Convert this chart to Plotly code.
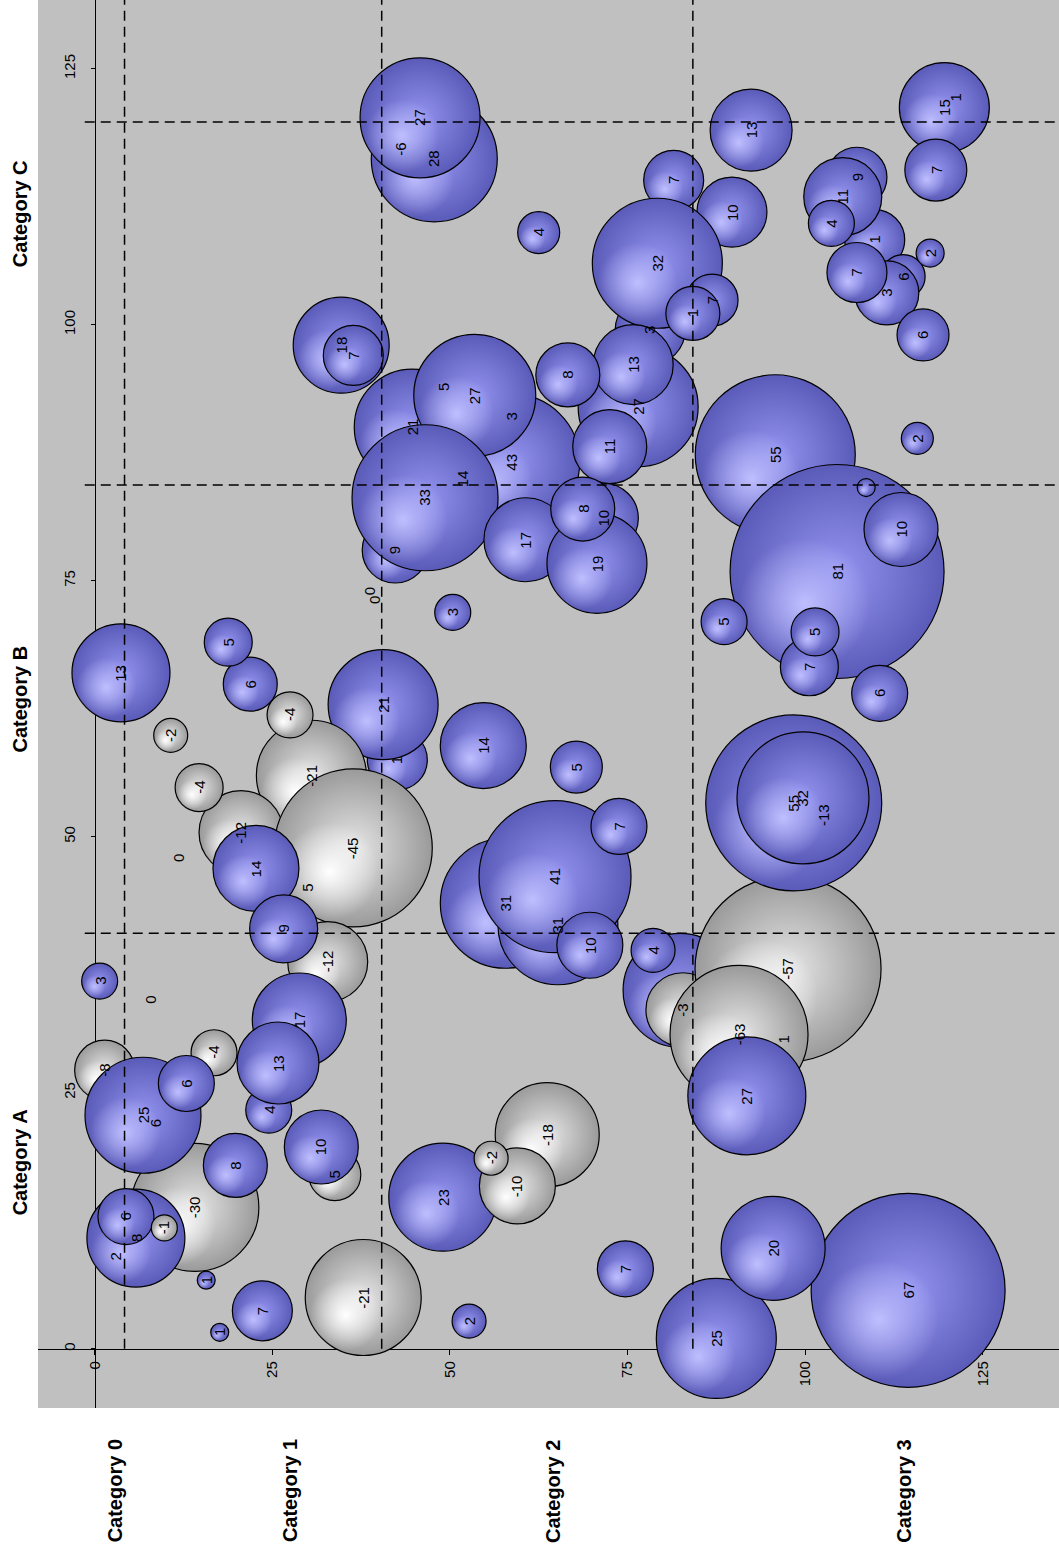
import plotly.graph_objects as go

# ---------------- data (drawing order) ----------------
labels = [
    "-6", "28", "27", "4", "7", "10",
    "43", "5", "3", "14", "21", "27", "9", "33",
    "27", "3", "32", "7", "1", "13", "8", "11", "10", "17", "19", "8", "3", "0", "0",
    "18", "7",
    "13", "1", "15", "7", "1", "9", "11", "4", "6", "3", "7", "2", "6", "2",
    "55", "81", "", "10", "5", "7", "5", "6",
    "31", "31", "41", "10", "7", "5", "14",
    "", "-3", "4", "-57", "1", "-63", "27", "55", "-13", "32",
    "1", "21", "-21", "-4", "6", "5", "13", "-2", "-12", "-4", "5", "-45", "14", "0",
    "-12", "9", "17", "3", "0", "-8", "6", "-30", "25", "-4", "6", "4", "13",
    "5", "10", "8", "2", "8", "6", "-1", "1", "1", "7", "-21",
    "23", "-18", "-10", "-2", "2", "7", "25", "67", "20",
]

x_data = [
    43.0, 47.8, 45.8, 62.5, 81.5, 89.7,
    58.7, 49.0, 58.7, 51.7, 44.7, 53.5, 42.3, 46.5,
    76.5, 78.2, 79.2, 86.9, 84.2, 75.8, 66.6, 72.5, 71.6, 60.7, 70.7, 68.7, 50.4, 38.8, 39.3,
    34.7, 36.4,
    92.4, 121.1, 119.6, 118.4, 109.8, 107.3, 105.3, 103.7, 113.8, 111.5, 107.3, 117.6, 116.6, 115.8,
    95.8, 104.5, 108.6, 113.5, 88.6, 100.6, 101.4, 110.5,
    57.8, 65.2, 64.8, 69.7, 73.8, 67.8, 54.7,
    82.4, 82.8, 78.6, 97.6, 96.9, 90.7, 91.8, 98.4, 102.5, 99.7,
    42.6, 40.6, 30.5, 27.5, 21.9, 18.8, 3.7, 10.7, 20.6, 14.7, 30.0, 36.4, 22.7, 11.7,
    32.8, 26.6, 28.8, 0.7, 7.8, 1.4, 8.6, 14.1, 6.8, 16.8, 12.9, 24.5, 25.8,
    33.8, 31.9, 19.8, 3.0, 5.8, 4.4, 9.8, 15.7, 17.6, 23.6, 37.8,
    49.0, 63.7, 59.5, 55.8, 52.7, 74.7, 87.5, 114.5, 95.5,
]

y_data = [
    117.1, 116.2, 120.2, 109.0, 114.1, 111.0,
    86.6, 93.9, 91.0, 85.0, 90.0, 93.1, 78.0, 83.1,
    92.0, 99.5, 106.0, 102.4, 101.1, 96.1, 95.1, 88.1, 81.1, 79.0, 76.7, 82.0, 71.9, 74.0, 73.1,
    98.0, 97.0,
    119.0, 122.2, 121.2, 115.1, 108.3, 114.4, 112.5, 109.9, 104.7, 103.1, 105.1, 107.0, 99.0, 88.9,
    87.3, 75.9, 84.1, 80.0, 71.0, 66.6, 70.0, 64.0,
    43.5, 41.4, 46.1, 39.4, 51.0, 56.8, 58.9,
    35.0, 33.1, 38.9, 37.1, 30.2, 30.7, 24.7, 53.3, 52.1, 53.8,
    57.5, 62.9, 56.0, 61.9, 64.9, 69.0, 66.0, 59.9, 50.4, 54.8, 45.0, 48.9, 46.9, 47.9,
    37.8, 41.0, 32.1, 35.9, 34.1, 27.2, 22.0, 13.8, 22.8, 28.9, 25.9, 23.3, 27.9,
    17.0, 19.7, 17.9, 9.0, 10.8, 12.9, 11.8, 6.7, 1.6, 3.7, 5.0,
    14.8, 20.9, 15.9, 18.6, 2.7, 7.8, 1.0, 5.7, 9.8,
]

bubble_size = [
    27, 63, 60, 21, 30, 35,
    68, 4, 4, 4, 58, 61, 33, 73,
    60, 35, 65, 26, 27, 40, 32, 37, 35, 42, 50, 32, 18, 0, 0,
    48, 30,
    41, 5, 45, 31, 30, 30, 39, 23, 22, 32, 30, 14, 26, 16,
    80, 107, 9, 37, 23, 29, 24, 28,
    65, 60, 76, 33, 28, 26, 43,
    57, 37, 22, 93, 3, 69, 59, 88, 39, 66,
    30, 55, 55, 23, 27, 24, 49, 17, 42, 24, 4, 79, 43, 0,
    40, 34, 47, 18, 0, 30, 4, 64, 58, 23, 28, 23, 41,
    26, 37, 32, 4, 49, 28, 13, 9, 9, 30, 58,
    54, 52, 38, 17, 17, 28, 60, 97, 52,
]

sign = [
    "neg", "pos", "pos", "pos", "pos", "pos",
    "pos", "pos", "pos", "pos", "pos", "pos", "pos", "pos",
    "pos", "pos", "pos", "pos", "pos", "pos", "pos", "pos", "pos", "pos", "pos", "pos", "pos", "pos", "pos",
    "pos", "pos",
    "pos", "pos", "pos", "pos", "pos", "pos", "pos", "pos", "pos", "pos", "pos", "pos", "pos", "pos",
    "pos", "pos", "pos", "pos", "pos", "pos", "pos", "pos",
    "pos", "pos", "pos", "pos", "pos", "pos", "pos",
    "pos", "neg", "pos", "neg", "neg", "neg", "pos", "pos", "neg", "pos",
    "pos", "pos", "neg", "neg", "pos", "pos", "pos", "neg", "neg", "neg", "pos", "neg", "pos", "pos",
    "neg", "pos", "pos", "pos", "pos", "neg", "pos", "neg", "pos", "neg", "pos", "pos", "pos",
    "neg", "pos", "pos", "pos", "pos", "pos", "neg", "pos", "pos", "pos", "neg",
    "pos", "neg", "neg", "neg", "pos", "pos", "pos", "pos", "pos",
]

tick_values = [0, 25, 50, 75, 100, 125]
divider_x = [4.2, 40.4, 84.2]
divider_y = [119.8, 84.35, 40.57]
row_categories = ["Category A", "Category B", "Category C"]
row_category_pos = [18.2, 63.4, 110.8]
col_categories = ["Category 0", "Category 1", "Category 2", "Category 3"]
col_category_pos = [2.9, 27.5, 64.5, 114.0]

# ---------------- styling ----------------
W, H = 1059, 1551
M_L, M_R, M_T, M_B = 38, 0, 0, 143
X_RANGE = [-7.98, 135.74]
Y_RANGE = [-5.79, 131.71]
FONT = "Liberation Sans, Arial, sans-serif"
edge = {"pos": "#5A5AB8", "neg": "#9A9A9A"}
mid = {"pos": "#9494F0", "neg": "#E6E6E6"}
shine = {"pos": "rgba(190,190,255,1)", "neg": "rgba(255,255,255,1)"}
shine_fade = {"pos": "rgba(190,190,255,0)", "neg": "rgba(255,255,255,0)"}

px_per_x = (W - M_L - M_R) / (X_RANGE[1] - X_RANGE[0])
px_per_y = (H - M_T - M_B) / (Y_RANGE[1] - Y_RANGE[0])
SHIFT, SHINE_R = 0.3, 0.62

# interleave each bubble with its highlight so draw order is kept
px, py, ps, pc, pg, pw = [], [], [], [], [], []
for xv, yv, r, s in zip(x_data, y_data, bubble_size, sign):
    px.append(xv); py.append(yv); ps.append(2 * r)
    pc.append(edge[s]); pg.append(mid[s]); pw.append(1.2)
    px.append(xv - SHIFT * r / px_per_x); py.append(yv - SHIFT * r / px_per_y)
    ps.append(2 * SHINE_R * r)
    pc.append(shine_fade[s]); pg.append(shine[s]); pw.append(0)

fig = go.Figure()
fig.add_trace(go.Scatter(
    x=px, y=py, mode="markers",
    marker=dict(
        size=ps, sizemode="diameter", sizeref=1,
        color=pc,
        gradient=dict(type="radial", color=pg),
        line=dict(color="black", width=pw),
        opacity=1,
    ),
    hoverinfo="skip", showlegend=False, cliponaxis=True,
))

annotations = []
for lab, xv, yv in zip(labels, x_data, y_data):
    if lab == "":
        continue
    annotations.append(dict(
        x=xv, y=yv, xref="x", yref="y", text=lab, showarrow=False,
        xanchor="center", yanchor="middle",
        textangle=-90, font=dict(family=FONT, size=15, color="black"),
    ))

# category labels
for name, pos in zip(row_categories, row_category_pos):
    annotations.append(dict(
        x=-0.0176, y=pos, xref="paper", yref="y", text="<b>" + name + "</b>",
        showarrow=False, textangle=-90, xanchor="center", yanchor="middle",
        font=dict(family=FONT, size=20, color="black"),
    ))
for name, pos in zip(col_categories, col_category_pos):
    annotations.append(dict(
        x=pos, y=-0.059, xref="x", yref="paper", text="<b>" + name + "</b>",
        showarrow=False, textangle=-90, xanchor="center", yanchor="middle",
        font=dict(family=FONT, size=20, color="black"),
    ))

shapes = []
for xv in divider_x:
    shapes.append(dict(type="line", xref="x", yref="y", x0=xv, x1=xv,
                       y0=0, y1=Y_RANGE[1], layer="above",
                       line=dict(color="black", width=1.5, dash="10px,6px")))
for yv in divider_y:
    shapes.append(dict(type="line", xref="x", yref="y", y0=yv, y1=yv,
                       x0=-1.4, x1=X_RANGE[1], layer="above",
                       line=dict(color="black", width=1.5, dash="10px,6px")))

x_axis_pos = (0 - Y_RANGE[0]) / (Y_RANGE[1] - Y_RANGE[0])
y_axis_pos = (0 - X_RANGE[0]) / (X_RANGE[1] - X_RANGE[0])

fig.update_layout(
    width=W, height=H,
    margin=dict(l=M_L, r=M_R, t=M_T, b=M_B, pad=0),
    paper_bgcolor="white", plot_bgcolor="#C0C0C0",
    annotations=annotations, shapes=shapes,
    xaxis=dict(
        range=X_RANGE, tickvals=tick_values, tickangle=-90,
        anchor="free", position=x_axis_pos, side="bottom",
        showline=True, linecolor="black", linewidth=1.5,
        ticks="outside", ticklen=5, tickcolor="black", tickwidth=1,
        showgrid=False, zeroline=False, layer="below traces",
        tickfont=dict(family=FONT, size=15, color="black"),
        automargin=False, fixedrange=True,
    ),
    yaxis=dict(
        range=Y_RANGE, tickvals=tick_values, tickangle=-90,
        anchor="free", position=y_axis_pos, side="left",
        showline=True, linecolor="black", linewidth=1.5,
        ticks="outside", ticklen=4, tickcolor="black", tickwidth=1,
        ticklabelstandoff=10,
        showgrid=False, zeroline=False, layer="below traces",
        tickfont=dict(family=FONT, size=15, color="black"),
        automargin=False, fixedrange=True,
    ),
)

fig.write_html(
    "out.html",
    config={"displayModeBar": False, "staticPlot": True},
    post_script="document.body.style.margin='0px';document.body.style.overflow='hidden';",
)
